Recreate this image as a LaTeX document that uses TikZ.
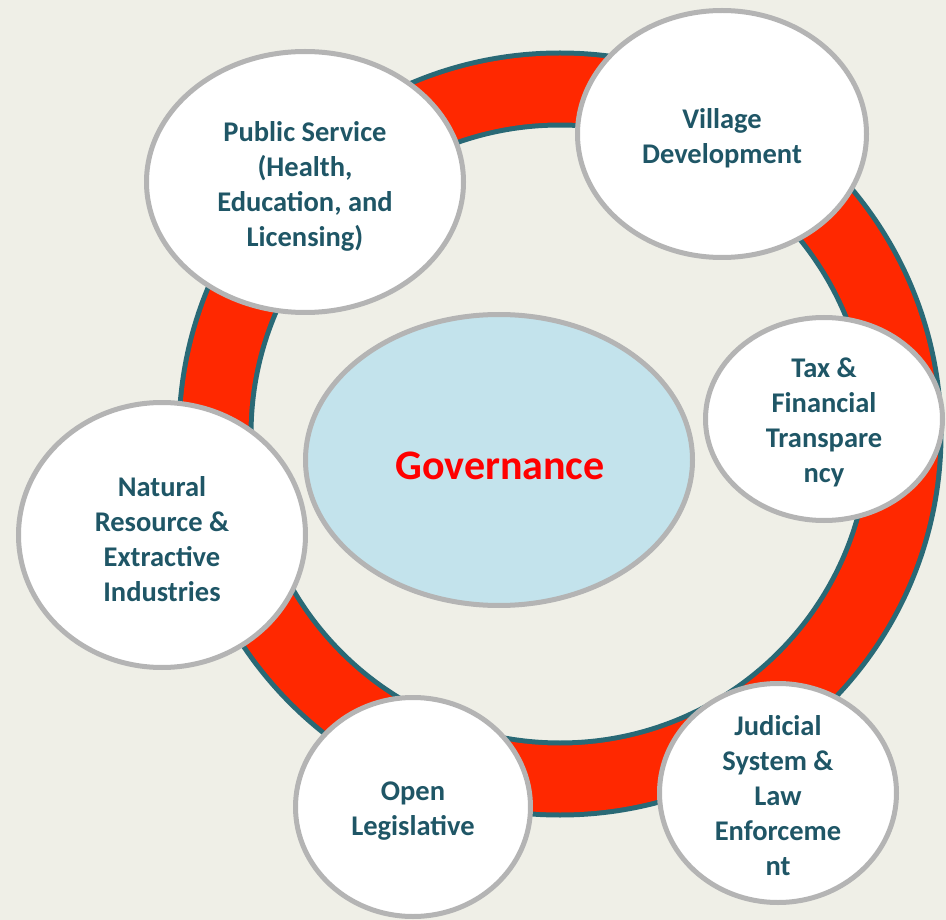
\documentclass[tikz,border=0pt]{standalone}
\usepackage{fontspec}
\setmainfont{Carlito}
\usetikzlibrary{shapes.geometric}
\definecolor{bgc}{RGB}{239,239,231}
\definecolor{ringred}{RGB}{255,40,0}
\definecolor{ringteal}{RGB}{41,105,118}
\definecolor{txtteal}{RGB}{31,86,102}
\definecolor{bordergrey}{RGB}{180,180,180}
\definecolor{centerblue}{RGB}{195,227,236}
\tikzset{
  bub/.style={ellipse, draw=bordergrey, line width=5pt, fill=white, inner sep=0pt},
  txt/.style={align=center, text=txtteal, font=\bfseries\fontsize{28.5}{35}\selectfont, inner sep=0pt},
}
\begin{document}
\begin{tikzpicture}[x=1pt,y=-1pt]
\fill[bgc] (0,0) rectangle (946,920);
\useasboundingbox (0,0) rectangle (946,920);
% ring
\coordinate (rc) at (560,434);
\draw[ringteal, line width=77pt] (rc) circle[radius=345pt];
\draw[ringred, line width=67pt] (rc) circle[radius=345pt];
% centre
\node[bub, fill=centerblue, minimum width=387pt, minimum height=291pt] (gov) at (499,460) {};
\node[inner sep=0pt, text=red, font=\bfseries\fontsize{42}{50}\selectfont] (govt) at (500,466) {Governance};
% outer bubbles
\node[bub, minimum width=317pt, minimum height=261pt] (ps) at (305,182) {};
\node[txt] (pst) at (305,186) {Public Service\\(Health,\\Education, and\\Licensing)};
\node[bub, minimum width=289pt, minimum height=247pt] (vd) at (722,134) {};
\node[txt] (vdt) at (722,138) {Village\\Development};
\node[bub, minimum width=237pt, minimum height=203pt] (tax) at (824,419) {};
\node[txt] (taxt) at (824,422) {Tax \&\\Financial\\Transpare\\ncy};
\node[bub, minimum width=287pt, minimum height=265pt] (nr) at (162,535) {};
\node[txt] (nrt) at (162,539) {Natural\\Resource \&\\Extractive\\Industries};
\node[bub, minimum width=235pt, minimum height=219pt] (ol) at (413,807) {};
\node[txt] (olt) at (413,811) {Open\\Legislative};
\node[bub, minimum width=237pt, minimum height=219pt] (js) at (778,793) {};
\node[txt] (jst) at (778,796) {Judicial\\System \&\\Law\\Enforceme\\nt};
\end{tikzpicture}
\end{document}
